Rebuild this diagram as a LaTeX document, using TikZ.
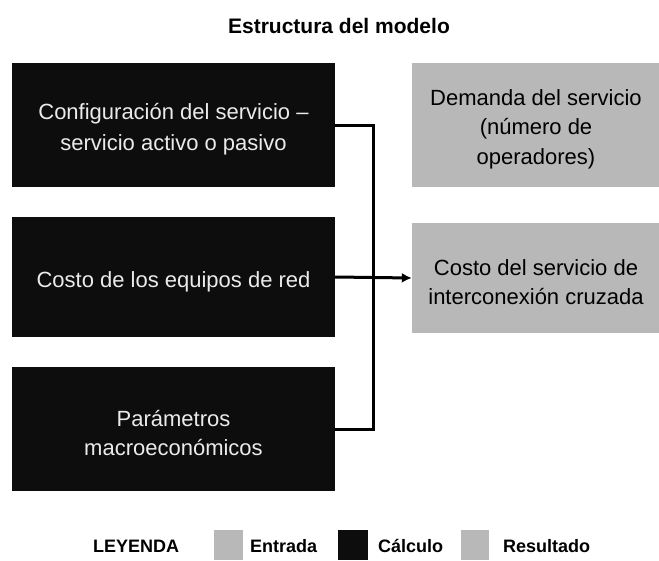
\documentclass[tikz,border=0pt]{standalone}
\usepackage{fontspec}
\setmainfont{Liberation Sans}
\usetikzlibrary{arrows.meta,positioning}
\definecolor{calculo}{HTML}{0D0D0D}
\definecolor{entrada}{HTML}{B8B8B8}
\newcommand{\lh}{\rule[-2pt]{0pt}{27pt}}
\tikzset{calcbox/.style={rectangle,fill=calculo,text=white!92!black,minimum width=323pt,inner sep=0pt,align=center,font=\fontsize{22}{29}\selectfont}}
\tikzset{datobox/.style={rectangle,fill=entrada,text=black,minimum width=248pt,inner sep=0pt,align=center,font=\fontsize{22}{29}\selectfont}}
\tikzset{clave/.style={rectangle,inner sep=0pt,minimum height=30pt}}
\tikzset{leyenda/.style={anchor=base west,inner sep=0pt,font=\bfseries\fontsize{18}{22}\selectfont}}
\tikzset{>={Latex[length=10pt,width=10pt]},conn/.style={line width=3pt}}

\begin{document}
\begin{tikzpicture}[x=1pt,y=-1pt]
    \useasboundingbox (0,0) rectangle (659,560);
    \node[anchor=base,inner sep=0pt,font=\bfseries\fontsize{21}{25}\selectfont] (titulo) at (339,33) {Estructura del modelo};

    % bloques de calculo
    \node[calcbox,minimum height=124pt] (config) at (173.5,125) {\lh Configuración del servicio –\\\lh servicio activo o pasivo};
    \node[calcbox,minimum height=120pt] (equipos) at (173.5,277) {\lh Costo de los equipos de red};
    \node[calcbox,minimum height=124pt] (macro) at (173.5,429) {\lh Parámetros\\\lh macroeconómicos};

    % entrada y resultado
    \node[datobox,minimum height=124pt] (demanda) at (536,125) {\lh Demanda del servicio\\\lh (número de\\\lh operadores)};
    \node[datobox,minimum height=110pt] (costo) at (536,278) {\lh Costo del servicio de\\\lh interconexión cruzada};

    \coordinate (bus) at (373,125);
    \draw[conn] (config.east) -- (config.east -| bus) -- (macro.east -| bus) -- (macro.east);
    \draw[conn,->] (equipos.east) -- (costo.west);

    % leyenda
    \node[leyenda] (ley) at (93,552) {LEYENDA};
    \node[clave,fill=entrada,minimum width=29pt] (cl-entrada) at (228.5,545) {};
    \node[leyenda] (t-entrada) at (250,552) {Entrada};
    \node[clave,fill=calculo,minimum width=30pt] (cl-calculo) at (353,545) {};
    \node[leyenda] (t-calculo) at (378,552) {Cálculo};
    \node[clave,fill=entrada,minimum width=28pt] (cl-resultado) at (475,545) {};
    \node[leyenda] (t-resultado) at (503,552) {Resultado};
\end{tikzpicture}
\end{document}
